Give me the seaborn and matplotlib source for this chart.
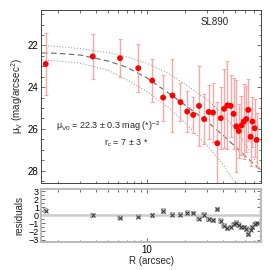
import numpy as np
import pandas as pd
import matplotlib
matplotlib.use("Agg")
import matplotlib.pyplot as plt
from matplotlib.ticker import MultipleLocator, NullFormatter, FixedLocator
import seaborn as sns

# profile points
radius = [1.60, 3.76, 6.17, 8.59, 11.07, 13.5, 16.0, 18.5, 20.9, 23.3,
          25.9, 28.4, 30.9, 33.4, 36.1, 38.5, 40.8, 43.4, 46.1, 48.5,
          51.0, 53.3, 56.0, 58.3, 61.0, 63.3, 66.1, 68.4, 71.2, 73.7]
mu_v = [22.89, 22.53, 22.61, 23.09, 23.68, 24.50, 24.40, 24.72, 25.17, 25.33,
        24.90, 25.53, 25.19, 25.22, 26.69, 25.49, 25.04, 24.87, 24.90, 25.28,
        25.88, 26.10, 25.84, 25.65, 25.53, 25.09, 26.38, 25.65, 25.97, 26.53]
mu_err = [1.50, 1.10, 0.92, 1.15, 1.02, 1.10, 1.74, 0.90, 1.00, 0.85,
          1.90, 1.20, 1.30, 1.40, 2.00, 1.50, 1.90, 2.10, 1.50, 1.70,
          2.20, 1.30, 1.40, 1.80, 1.60, 1.50, 1.40, 1.20, 1.40, 1.30]
resid = [0.60, 0.00, -0.30, -0.15, 0.00, 0.55, 0.10, 0.10, 0.30, 0.25,
         -0.40, 0.05, -0.50, -0.60, 0.75, -0.70, -1.30, -1.60, -1.50, -1.10,
         -0.90, -1.20, -1.50, -1.50, -1.70, -2.30, -1.80, -1.50, -1.10, -1.00]

# fitted model and its envelope
model_r = [1.5, 2, 3, 5, 7, 10, 15, 20, 30, 40, 50, 60, 80]
model_mid = [22.36, 22.38, 22.46, 22.75, 23.05, 23.55, 24.30, 24.85, 25.65, 26.30, 26.85, 27.30, 28.00]
model_hi = [22.00, 22.05, 22.15, 22.35, 22.55, 22.85, 23.35, 23.85, 24.60, 25.30, 26.00, 26.70, 28.00]
model_lo = [22.70, 22.75, 22.85, 23.20, 23.65, 24.20, 25.00, 25.70, 26.80, 27.70, 28.60, 29.40, 30.50]

sns.set_style("ticks")
plt.rcParams['font.family'] = ['Liberation Sans', 'DejaVu Sans']
plt.rcParams['font.size'] = 7
plt.rcParams['mathtext.fontset'] = 'custom'
plt.rcParams['mathtext.rm'] = 'Liberation Sans'
plt.rcParams['mathtext.it'] = 'Liberation Sans'
plt.rcParams['mathtext.default'] = 'regular'

fig = plt.figure(figsize=(2.7, 2.7), dpi=100)
ax = fig.add_axes([0.152, 0.322, 0.815, 0.641])
axr = fig.add_axes([0.152, 0.104, 0.815, 0.196])

for a in (ax, axr):
    a.set_xscale('log')
    a.set_xlim(1.47, 80)
    a.tick_params(which='both', direction='in', top=True, right=True,
                  labelsize=7, width=0.5, color='#333333', labelcolor='black', pad=2)
    a.tick_params(which='major', length=3)
    a.tick_params(which='minor', length=1.8)
    a.xaxis.set_minor_formatter(NullFormatter())

models = pd.DataFrame({'R': model_r, 'mid': model_mid, 'hi': model_hi, 'lo': model_lo})
sns.lineplot(data=models, x='R', y='hi', ax=ax, color='#888888', lw=0.7, linestyle=(0, (1, 2)), sort=False)
sns.lineplot(data=models, x='R', y='lo', ax=ax, color='#888888', lw=0.7, linestyle=(0, (1, 2)), sort=False)
sns.lineplot(data=models, x='R', y='mid', ax=ax, color='#666666', lw=0.8, linestyle=(0, (5, 3)), sort=False)

ax.errorbar(radius, mu_v, yerr=mu_err, fmt='none', ecolor='#f7a8a8', elinewidth=1.0,
            capsize=1.6, capthick=0.8, zorder=3)
prof = pd.DataFrame({'R': radius, 'mu': mu_v})
sns.scatterplot(data=prof, x='R', y='mu', ax=ax, color='red', s=18, edgecolor='none', zorder=4)

ax.set_ylim(28.6, 20.3)
ax.yaxis.set_major_locator(MultipleLocator(2))
ax.yaxis.set_minor_locator(MultipleLocator(0.5))
ax.xaxis.set_major_formatter(NullFormatter())
ax.set_xlabel('')
ax.set_ylabel(r'μ$_V$ (mag/arcsec$^2$)', fontsize=7, labelpad=2)
for s in ax.spines.values():
    s.set_color('#444444')
    s.set_linewidth(0.7)

ax.text(0.79, 0.93, 'SL890', transform=ax.transAxes, fontsize=7, ha='center', va='center')
ax.text(0.07, 0.33, r'μ$_{V0}$ = 22.3 ± 0.3 mag (*)$^{-2}$', transform=ax.transAxes,
        fontsize=6.5, ha='left', va='center')
ax.text(0.49, 0.23, r'r$_c$ = 7 ± 3 *', transform=ax.transAxes, fontsize=6.5, ha='right', va='center')

# residual panel
axr.axhline(0, color='#cccccc', lw=1.8, zorder=1)
res = pd.DataFrame({'R': radius, 'res': resid})
sns.scatterplot(data=res, x='R', y='res', ax=axr, marker='s', s=14, color='#bbbbbb',
                edgecolor='none', zorder=2)
sns.scatterplot(data=res, x='R', y='res', ax=axr, marker='x', s=8, color='#333333',
                linewidth=0.7, zorder=3)
axr.set_ylim(-3.3, 3.3)
axr.yaxis.set_major_locator(FixedLocator([-3, -2, -1, 0, 1, 2, 3]))
axr.yaxis.set_minor_locator(MultipleLocator(0.5))
axr.tick_params(axis='y', labelsize=6.5, pad=1.5)
axr.set_xticks([10])
axr.set_xticklabels(['10'])
axr.set_xlabel('R (arcsec)', fontsize=7, labelpad=1)
axr.set_ylabel('residuals', fontsize=7, labelpad=3)
for s in axr.spines.values():
    s.set_color('#bbbbbb')
    s.set_linewidth(1.5)

fig.savefig('out.png', dpi=100)
